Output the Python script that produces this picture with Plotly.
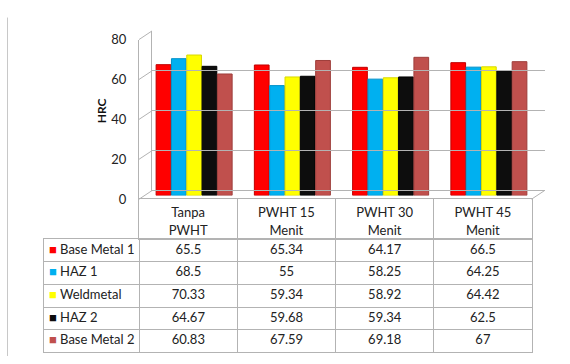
import plotly.graph_objects as go

categories = ["Tanpa PWHT", "PWHT 15 Menit", "PWHT 30 Menit", "PWHT 45 Menit"]
header_line1 = ["Tanpa", "PWHT 15", "PWHT 30", "PWHT 45"]
header_line2 = ["PWHT", "Menit", "Menit", "Menit"]
series_names = ["Base Metal 1", "HAZ 1", "Weldmetal", "HAZ 2", "Base Metal 2"]
base_metal_1 = [65.5, 65.34, 64.17, 66.5]
haz_1 = [68.5, 55, 58.25, 64.25]
weldmetal = [70.33, 59.34, 58.92, 64.42]
haz_2 = [64.67, 59.68, 59.34, 62.5]
base_metal_2 = [60.83, 67.59, 69.18, 67]
series_values = [base_metal_1, haz_1, weldmetal, haz_2, base_metal_2]
colors = ["#FF0000", "#00B0F0", "#FFFF00", "#0D0D0D", "#C0504D"]
edge_colors = ["#C00000", "#0090C8", "#D8D800", "#000000", "#9E3E3B"]
y_ticks = [0, 20, 40, 60, 80]

W, H = 570, 364
def px(x): return x / W
def py(y): return 1 - y / H

GRID = "#B3B3B3"
FONT = "Lato"
TXT = "#222"
FS = 13

fig = go.Figure()

# bars (mid-depth of the 3D box)
for name, vals, c, ec in zip(series_names, series_values, colors, edge_colors):
    fig.add_trace(go.Bar(x=categories, y=vals, name=name, marker=dict(color=c, line=dict(width=1, color=ec)),
                         xaxis="x", yaxis="y", showlegend=False, hoverinfo="x+y+name"))

# invisible helpers for back wall and front axis
fig.add_trace(go.Scatter(x=[0], y=[0], xaxis="x2", yaxis="y2", mode="markers",
                         marker=dict(opacity=0), showlegend=False, hoverinfo="skip"))
fig.add_trace(go.Scatter(x=[0], y=[0], xaxis="x3", yaxis="y3", mode="markers",
                         marker=dict(opacity=0), showlegend=False, hoverinfo="skip"))

# ---- data table: header (x6/y6) ----
ncat = len(categories)
for lines, yv in ((header_line1, 0.14), (header_line2, -0.31)):
    fig.add_trace(go.Scatter(x=list(range(ncat)), y=[yv] * ncat, text=lines, mode="text",
                             textposition="middle center", textfont=dict(family=FONT, size=FS, color=TXT),
                             xaxis="x6", yaxis="y6", showlegend=False, hoverinfo="skip"))
# ---- data table: body (x5/y5) ----
rows = list(range(len(series_names)))
LEG_LEFT = -1.47
for i in range(ncat):
    fig.add_trace(go.Scatter(x=[i] * len(rows), y=rows, text=[f"{s[i]:g}" for s in series_values],
                             mode="text", textposition="middle center",
                             textfont=dict(family=FONT, size=FS, color=TXT),
                             xaxis="x5", yaxis="y5", showlegend=False, hoverinfo="skip"))
fig.add_trace(go.Scatter(x=[LEG_LEFT + 0.05] * len(rows), y=rows,
                         text=[f'<span style="color:{c}">■</span> {n}' for n, c in zip(series_names, colors)],
                         mode="text", textposition="middle right",
                         textfont=dict(family=FONT, size=FS, color=TXT),
                         xaxis="x5", yaxis="y5", showlegend=False, hoverinfo="skip"))

y0f, y80f = 200, 33   # front edge
y0b, y80b = 191, 24   # back wall
xf, xb = 139, 152

shapes = []
for t in y_ticks:
    yf = y0f + (y80f - y0f) * t / 80
    yb = y0b + (y80b - y0b) * t / 80
    shapes.append(dict(type="line", xref="paper", yref="paper", x0=px(xf), y0=py(yf), x1=px(xb), y1=py(yb),
                       line=dict(color=GRID, width=1)))
shapes.append(dict(type="line", xref="paper", yref="paper", x0=px(531.5), y0=py(200), x1=px(544.5), y1=py(191),
                   line=dict(color=GRID, width=1)))
shapes.append(dict(type="line", xref="paper", yref="paper", x0=px(7.5), y0=py(10), x1=px(7.5), y1=0,
                   line=dict(color="#C8C8C8", width=1)))

annotations = [dict(text="<b>HRC</b>", x=px(101), y=py(108), xref="paper", yref="paper",
                    xanchor="center", yanchor="middle",
                    textangle=-90, showarrow=False, font=dict(family=FONT, size=12, color="#111"))]

box = dict(showline=True, mirror=True, linecolor=GRID, linewidth=1, showgrid=True, gridcolor=GRID,
           gridwidth=1, zeroline=False, showticklabels=False, ticks="")

fig.update_layout(
    width=W, height=H, margin=dict(l=0, r=0, t=0, b=0),
    paper_bgcolor="white", plot_bgcolor="rgba(0,0,0,0)",
    barmode="group", bargap=0.22, bargroupgap=0.04,
    font=dict(family=FONT, size=FS, color=TXT),
    xaxis=dict(domain=[px(145), px(538)], anchor="y", showticklabels=False, showgrid=False,
               zeroline=False, showline=False, range=[-0.5, 3.5]),
    yaxis=dict(domain=[py(196), py(29)], anchor="x", range=[0, 80], showticklabels=False,
               showgrid=False, zeroline=False, showline=False),
    xaxis2=dict(domain=[px(152), px(545)], anchor="y2", range=[0, 1], visible=False),
    yaxis2=dict(domain=[py(y0b), py(y80b)], anchor="x2", range=[0, 80], tickvals=y_ticks,
                showticklabels=False, showgrid=True, gridcolor=GRID, gridwidth=1,
                zeroline=True, zerolinecolor=GRID, zerolinewidth=1,
                showline=True, linecolor=GRID, linewidth=1, layer="below traces"),
    xaxis3=dict(domain=[px(xf), px(545)], anchor="y3", range=[0, 1], visible=False),
    yaxis3=dict(domain=[py(y0f), py(y80f)], anchor="x3", range=[0, 80], tickvals=y_ticks,
                showgrid=False, zeroline=False, showline=True, linecolor=GRID, linewidth=1,
                ticks="", ticklabelstandoff=9, tickfont=dict(family=FONT, size=FS, color=TXT)),
    # table body
    xaxis5=dict(domain=[px(44), px(532)], anchor="y5", range=[LEG_LEFT, ncat - 0.5],
                tickvals=[k - 0.5 for k in range(ncat)], **box),
    yaxis5=dict(domain=[py(360), py(242)], anchor="x5", range=[len(rows) - 0.5, -0.5],
                tickvals=[r + 0.5 for r in rows[:-1]], **box),
    # table header
    xaxis6=dict(domain=[px(139), px(532)], anchor="y6", range=[-0.5, ncat - 0.5],
                tickvals=[k + 0.5 for k in range(ncat - 1)], **box),
    yaxis6=dict(domain=[py(242), py(200)], anchor="x6", range=[-0.5, 0.5],
                tickvals=[], **box),
    shapes=shapes,
    annotations=annotations,
)

fig.write_html("out.html")
